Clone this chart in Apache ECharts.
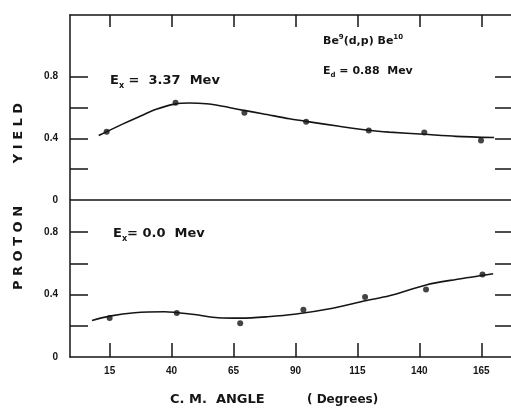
<!DOCTYPE html>
<html>
<head>
<meta charset="utf-8">
<script src="https://cdn.jsdelivr.net/npm/echarts@6/dist/echarts.min.js"></script>
<style>
  html, body { margin: 0; padding: 0; background: #fff; }
  #chart { width: 511px; height: 411px; }
</style>
</head>
<body>
<div id="chart"></div>
<script>
// nominal C.M. angle ticks (degrees)
var angleTicks = [15, 40, 65, 90, 115, 140, 165];

// Ex = 3.37 Mev : measured points
var upperAngle = [13.8, 41.6, 69.4, 94.3, 119.6, 142.0, 164.9];
var upperYield = [0.442, 0.631, 0.566, 0.507, 0.451, 0.438, 0.386];
// Ex = 3.37 Mev : drawn curve
var upperCurveAngle = [10.6, 20.2, 27.1, 33.8, 41.2, 47.3, 54.0, 60.6, 68.6, 76.7, 87.6, 94.3, 107.7, 119.6, 127.9, 142.0, 154.8, 170.2];
var upperCurveYield = [0.418, 0.492, 0.542, 0.588, 0.622, 0.629, 0.624, 0.608, 0.583, 0.560, 0.527, 0.510, 0.478, 0.452, 0.440, 0.426, 0.413, 0.405];

// Ex = 0.0 Mev : measured points
var lowerAngle = [15.0, 42.1, 67.7, 93.2, 118.1, 142.7, 165.5];
var lowerYield = [0.250, 0.282, 0.217, 0.303, 0.385, 0.432, 0.529];
// Ex = 0.0 Mev : drawn curve
var lowerCurveAngle = [7.9, 15.0, 25.1, 37.2, 49.3, 58.7, 68.1, 78.8, 89.6, 105.0, 118.1, 127.9, 142.7, 154.8, 169.8];
var lowerCurveYield = [0.234, 0.262, 0.284, 0.290, 0.272, 0.252, 0.249, 0.258, 0.274, 0.313, 0.360, 0.392, 0.462, 0.497, 0.534];

var yTicks = [0.2, 0.4, 0.6, 0.8];
var upperYLabels = [0, 0.4, 0.8];
var lowerYLabels = [0, 0.4, 0.8];

var ink = '#151515';
var font = 'Liberation Sans';

function pairs(xs, ys) {
    return xs.map(function (x, i) { return [x, ys[i]]; });
}

var xRange = {min: -1, max: 177};

function xAxisDef(grid, pos, ticks, labels, tickLen) {
    return {
        type: 'value', gridIndex: grid, position: pos,
        min: xRange.min, max: xRange.max,
        axisLine: {show: true, onZero: false, lineStyle: {color: ink, width: 1.5}},
        axisTick: {show: ticks, inside: true, length: tickLen, customValues: angleTicks,
            lineStyle: {color: ink, width: 1.5}},
        axisLabel: {show: labels, customValues: angleTicks, color: ink, fontFamily: font,
            fontWeight: 'bold', fontSize: 10, margin: 9},
        splitLine: {show: false}
    };
}

function yAxisDef(grid, pos, max, labels, tickLen) {
    return {
        type: 'value', gridIndex: grid, position: pos, min: 0, max: max,
        axisLine: {show: pos === 'left', onZero: false, lineStyle: {color: ink, width: 1.5}},
        axisTick: {show: true, inside: true, length: tickLen, customValues: yTicks,
            lineStyle: {color: ink, width: 1.5}},
        axisLabel: {show: !!labels, customValues: labels || [], color: ink, fontFamily: font,
            fontWeight: 'bold', fontSize: 10, margin: 12},
        splitLine: {show: false}
    };
}

var chart = echarts.init(document.getElementById('chart'));
chart.setOption({
    animation: false,
    backgroundColor: '#fff',
    grid: [
        {left: 70, right: 0, top: 15, height: 185},
        {left: 70, right: 0, top: 201, height: 156}
    ],
    xAxis: [
        xAxisDef(0, 'top', true, false, 12),
        xAxisDef(0, 'bottom', false, false, 0),
        xAxisDef(1, 'bottom', true, true, 14)
    ],
    yAxis: [
        yAxisDef(0, 'left', 1.2, upperYLabels, 18),
        yAxisDef(0, 'right', 1.2, null, 16),
        yAxisDef(1, 'left', 1.0, lowerYLabels, 18),
        yAxisDef(1, 'right', 1.0, null, 16)
    ],
    series: [
        {type: 'line', xAxisIndex: 1, yAxisIndex: 0, data: pairs(upperCurveAngle, upperCurveYield),
            smooth: 0.3, showSymbol: false, lineStyle: {color: ink, width: 1.6}},
        {type: 'scatter', xAxisIndex: 1, yAxisIndex: 0, data: pairs(upperAngle, upperYield),
            symbolSize: 6, itemStyle: {color: ink}},
        {type: 'line', xAxisIndex: 2, yAxisIndex: 2, data: pairs(lowerCurveAngle, lowerCurveYield),
            smooth: 0.3, showSymbol: false, lineStyle: {color: ink, width: 1.6}},
        {type: 'scatter', xAxisIndex: 2, yAxisIndex: 2, data: pairs(lowerAngle, lowerYield),
            symbolSize: 6, itemStyle: {color: ink}}
    ],
    graphic: [
        {type: 'text', x: 19, y: 133, rotation: Math.PI / 2,
            style: {text: 'Y I E L D', fill: ink, font: 'bold 13px "DejaVu Sans"', align: 'center', verticalAlign: 'middle'}},
        {type: 'text', x: 19, y: 248, rotation: Math.PI / 2,
            style: {text: 'P R O T O N', fill: ink, font: 'bold 13px "DejaVu Sans"', align: 'center', verticalAlign: 'middle'}},
        {type: 'text', x: 170, y: 400,
            style: {text: 'C. M.  ANGLE', fill: ink, font: 'bold 13px "DejaVu Sans"', verticalAlign: 'middle'}},
        {type: 'text', x: 307, y: 400,
            style: {text: '( Degrees)', fill: ink, font: 'bold 12px "DejaVu Sans"', verticalAlign: 'middle'}},
        {type: 'text', x: 110, y: 81,
            style: {text: '{e|E}{s|x}{e| =  3.37  Mev}', verticalAlign: 'middle',
                rich: {e: {fill: ink, font: 'bold 13px "DejaVu Sans"'},
                       s: {fill: ink, font: 'bold 8px "DejaVu Sans"', padding: [10, 0, 0, 0]}}}},
        {type: 'text', x: 113, y: 234,
            style: {text: '{e|E}{s|x}{e|= 0.0  Mev}', verticalAlign: 'middle',
                rich: {e: {fill: ink, font: 'bold 13px "DejaVu Sans"'},
                       s: {fill: ink, font: 'bold 8px "DejaVu Sans"', padding: [10, 0, 0, 0]}}}},
        {type: 'text', x: 323, y: 41,
            style: {text: '{e|Be}{p|9}{e|(d,p) Be}{p|10}', verticalAlign: 'middle',
                rich: {e: {fill: ink, font: 'bold 11px "DejaVu Sans"'},
                       p: {fill: ink, font: 'bold 7px "DejaVu Sans"', padding: [0, 0, 8, 0]}}}},
        {type: 'text', x: 323, y: 71,
            style: {text: '{e|E}{s|d}{e| = 0.88  Mev}', verticalAlign: 'middle',
                rich: {e: {fill: ink, font: 'bold 11px "DejaVu Sans"'},
                       s: {fill: ink, font: 'bold 7px "DejaVu Sans"', padding: [8, 0, 0, 0]}}}}
    ]
});
</script>
</body>
</html>
